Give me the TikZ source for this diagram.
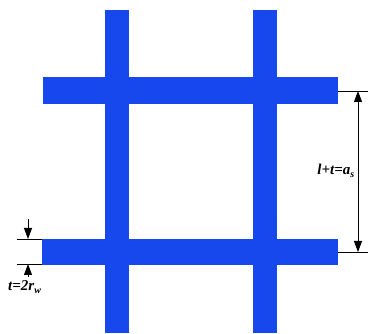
\documentclass[tikz,border=0pt]{standalone}
\usepackage{fontspec}
\setmainfont{Liberation Serif}
\usetikzlibrary{arrows.meta}
\definecolor{meshblue}{RGB}{22,72,238}
\tikzset{
  bar/.style={fill=meshblue, draw=none},
  dimline/.style={line width=0.8pt, black},
  tip/.tip={Triangle[length=11pt,width=8pt]},
  dimarrow/.style={line width=0.8pt, black, -tip},
  lbl/.style={font=\fontsize{15}{15}\selectfont\bfseries\itshape, inner sep=0pt}
}
\begin{document}
\begin{tikzpicture}[x=1pt,y=-1pt]
\useasboundingbox (0,0) rectangle (368,334);
% horizontal bars
\fill[bar] (43,77) rectangle (338,104);
\fill[bar] (42,239) rectangle (338,265);
% vertical bars
\fill[bar] (105,10) rectangle (129,333);
\fill[bar] (253,10) rectangle (277,333);
% right dimension
\coordinate (rt1) at (338,91);
\coordinate (rt2) at (368,91);
\coordinate (rb1) at (338,252);
\coordinate (rb2) at (368,252);
\draw[dimline] (rt1) -- (rt2);
\draw[dimline] (rb1) -- (rb2);
\coordinate (ra) at (358,91);
\coordinate (rb) at (358,252);
\draw[line width=0.8pt, tip-tip] (ra) -- (rb);
\node[lbl, anchor=base east] (lab1) at (355,175) {l+t=a\textsubscript{\fontsize{10}{10}\selectfont s}};
% left dimension
\coordinate (lt1) at (17,239);
\coordinate (lt2) at (42,239);
\coordinate (lb1) at (17,264);
\coordinate (lb2) at (42,264);
\draw[dimline] (lt1) -- (lt2);
\draw[dimline] (lb1) -- (lb2);
\coordinate (la0) at (28,219);
\coordinate (la1) at (28,239);
\coordinate (lb0) at (28,277);
\coordinate (lb3) at (28,264);
\draw[dimarrow] (la0) -- (la1);
\draw[dimarrow] (lb0) -- (lb3);
\node[lbl, anchor=base west] (lab2) at (8,291) {t=2r\textsubscript{\fontsize{10}{10}\selectfont w}};
\end{tikzpicture}
\end{document}
